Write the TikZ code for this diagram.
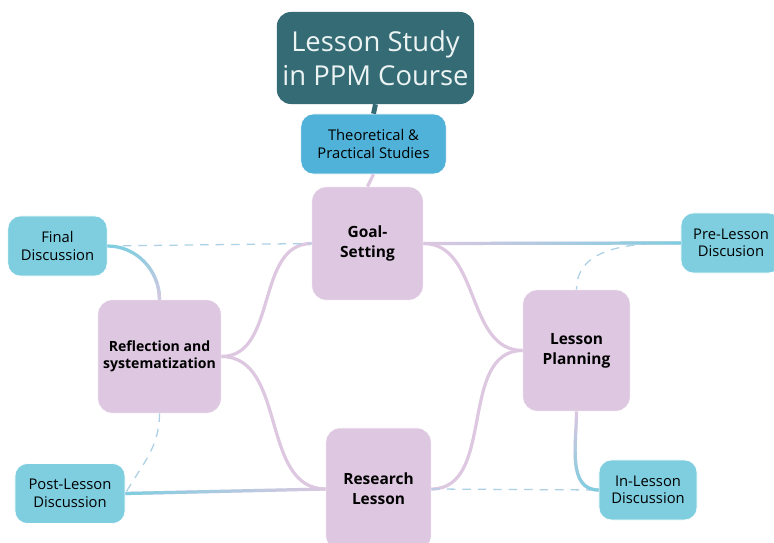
\documentclass[tikz,border=0pt]{standalone}
\usepackage{fontspec}
\setmainfont{Open Sans}
\usetikzlibrary{fadings}
\definecolor{titleteal}{RGB}{52,107,117}
\definecolor{studyblue}{RGB}{80,178,216}
\definecolor{lilac}{RGB}{222,199,225}
\definecolor{talkcyan}{RGB}{126,206,224}
\definecolor{dashblue}{RGB}{172,208,230}
\tikzset{
  phase/.style={fill=lilac, draw=white, rounded corners=10pt, inner sep=0pt,
    align=center, font=\bfseries\fontsize{11}{14}\selectfont},
  talk/.style={fill=talkcyan, draw=white, rounded corners=9pt, inner sep=0pt,
    minimum height=1.5cm, align=center, font=\fontsize{10.5}{12.5}\selectfont},
  branch/.style={draw=lilac, line width=2.3pt},
  tolilac/.style={draw=lilac, line width=2.3pt},
  tocyan/.style={draw=talkcyan, line width=2.3pt},
  dashlink/.style={draw=dashblue, line width=0.9pt, dash pattern=on 6pt off 5pt},
}

\begin{document}
\begin{tikzpicture}[x=0.025cm, y=-0.025cm]
  \useasboundingbox (0,0) rectangle (774,543);

  % centre and first level
  \node (title) [fill=titleteal, rounded corners=10pt, inner sep=0pt,
    minimum width=4.93cm, minimum height=2.3cm, align=center,
    text={rgb,255:red,236;green,243;blue,243},
    font=\fontsize{19.5}{24}\selectfont] at (375.5, 58) {Lesson Study\\in PPM Course};
  \node (theo) [fill=studyblue, draw=white, rounded corners=9pt, inner sep=0pt,
    minimum width=3.63cm, minimum height=1.5cm, align=center,
    font=\fontsize{10.5}{12.5}\selectfont] at (373.5, 144) {Theoretical \&\\Practical Studies};

  % cycle
  \node (goal) [phase, minimum width=2.78cm, minimum height=2.83cm] at (367.5, 243.5) {Goal-\\Setting};
  \node (plan) [phase, minimum width=2.68cm, minimum height=3.03cm] at (576.5, 350.5) {Lesson\\Planning};
  \node (research) [phase, minimum width=2.63cm, minimum height=3.05cm] at (378.5, 489) {Research\\Lesson};
  \node (refl) [phase, minimum width=3.08cm, minimum height=2.83cm,
    font=\bfseries\fontsize{10}{12.5}\selectfont] at (159.5, 356.5) {Reflection and\\systematization};

  % discussions
  \node (final) [talk, minimum width=2.48cm] at (57.5, 246) {Final\\Discussion};
  \node (pre) [talk, minimum width=2.5cm] at (731, 243) {Pre-Lesson\\Discusion};
  \node (inlesson) [talk, minimum width=2.45cm] at (648, 490) {In-Lesson\\Discussion};
  \node (post) [talk, minimum width=2.75cm] at (70, 493.5) {Post-Lesson\\Discussion};

  \draw [titleteal, line width=3.5pt] (title.south) -- (theo.north);
  \draw [branch] (theo.south) -- (goal.north);

  \draw [branch] (goal.west) to[out=180, in=0] (refl.east);
  \draw [branch] (goal.east) to[out=0, in=180] (plan.west);
  \draw [branch] (plan.west) to[out=180, in=0] (research.east);
  \draw [branch] (research.west) to[out=180, in=0] (refl.east);

  \draw [dashlink] (final.east) -- (goal.west);
  \draw [dashlink] (pre.west) to[out=180, in=90] (plan.north);
  \draw [dashlink] (research.east) -- (inlesson.west);
  \draw [dashlink] (refl.south) to[out=-90, in=60] (post.east);

  % lilac to cyan
  \draw [tolilac] (goal.east) -- (pre.west);
  \draw [tocyan, path fading=west] (goal.east) -- (pre.west);
  \draw [tolilac] (research.west) -- (post.east);
  \draw [tocyan, path fading=east] (research.west) -- (post.east);
  \draw [tolilac] (plan.south) to[out=-90, in=180] (inlesson.west);
  \draw [tocyan, path fading=north] (plan.south) to[out=-90, in=180] (inlesson.west);
  \draw [tocyan] (final.east) to[out=0, in=90] (refl.north);
  \draw [tolilac, path fading=north] (final.east) to[out=0, in=90] (refl.north);
\end{tikzpicture}
\end{document}
